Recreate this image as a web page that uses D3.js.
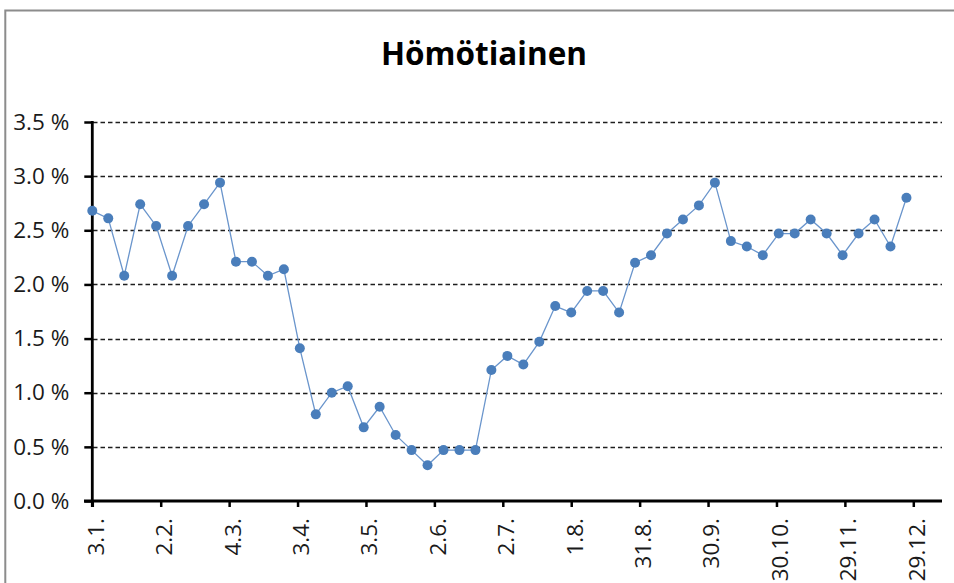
<!DOCTYPE html>
<html>
<head>
<meta charset="utf-8">
<script src="https://cdn.jsdelivr.net/npm/d3@7"></script>
<style>
  html, body { margin: 0; padding: 0; background: #fff; }
  svg { display: block; }
</style>
</head>
<body>
<svg id="chart" width="954" height="583"></svg>
<script>
// ---- data ----
const title = "Hömötiainen";
const year = 2021;
const weekDates = ["3.1.","10.1.","17.1.","24.1.","31.1.","7.2.","14.2.","21.2.","28.2.",
  "7.3.","14.3.","21.3.","28.3.","4.4.","11.4.","18.4.","25.4.","2.5.","9.5.","16.5.",
  "23.5.","30.5.","6.6.","13.6.","20.6.","27.6.","4.7.","11.7.","18.7.","25.7.","1.8.",
  "8.8.","15.8.","22.8.","29.8.","5.9.","12.9.","19.9.","26.9.","3.10.","10.10.","17.10.",
  "24.10.","31.10.","7.11.","14.11.","21.11.","28.11.","5.12.","12.12.","19.12.","26.12."];
const shares = [2.68, 2.61, 2.08, 2.74, 2.54, 2.08, 2.54, 2.74, 2.94, 2.21, 2.21, 2.08, 2.14,
  1.41, 0.80, 1.00, 1.06, 0.68, 0.87, 0.61, 0.47, 0.33, 0.47, 0.47, 0.47, 1.21, 1.34, 1.26,
  1.47, 1.80, 1.74, 1.94, 1.94, 1.74, 2.20, 2.27, 2.47, 2.60, 2.73, 2.94, 2.40, 2.35, 2.27,
  2.47, 2.47, 2.60, 2.47, 2.27, 2.47, 2.60, 2.35, 2.80];
const xTickLabels = ["3.1.","2.2.","4.3.","3.4.","3.5.","2.6.","2.7.","1.8.","31.8.","30.9.","30.10.","29.11.","29.12."];
const yTicks = [0, 0.5, 1.0, 1.5, 2.0, 2.5, 3.0, 3.5];

// ---- helpers ----
function parseDM(s) {
  const p = s.split(".");
  return new Date(Date.UTC(year, +p[1] - 1, +p[0]));
}
const data = weekDates.map((d, i) => ({ date: parseDM(d), value: shares[i] }));
const tickDates = xTickLabels.map(parseDM);

const svg = d3.select("#chart");
const font = "'Open Sans', 'DejaVu Sans', sans-serif";

// chart border
svg.append("path")
  .attr("d", "M5.3,583 L5.3,10.5 L954,10.5")
  .attr("fill", "none").attr("stroke", "#8c8c8c").attr("stroke-width", 2);

// scales
const x = d3.scaleUtc().domain([tickDates[0], tickDates[tickDates.length - 1]]).range([92.3, 913.3]);
const y = d3.scaleLinear().domain([0, 3.5]).range([501, 122]);
const plotRight = 942;

// title
svg.append("text")
  .attr("x", 484).attr("y", 65)
  .attr("text-anchor", "middle")
  .attr("font-family", font).attr("font-weight", "bold").attr("font-size", 31.5)
  .attr("fill", "#000")
  .text(title);

// gridlines
svg.append("g").selectAll("line")
  .data(yTicks.filter(v => v > 0))
  .join("line")
  .attr("x1", 93).attr("x2", plotRight)
  .attr("y1", d => Math.round(y(d)) + 0.5).attr("y2", d => Math.round(y(d)) + 0.5)
  .attr("stroke", "#1e1e1e").attr("stroke-width", 1.3)
  .attr("stroke-dasharray", "4.5,3");

// y axis
const yAxis = d3.axisLeft(y).tickValues(yTicks).tickSize(8).tickPadding(15)
  .tickFormat(d => d.toFixed(1) + " %");
const gy = svg.append("g").attr("transform", "translate(92.3,0)").call(yAxis);
gy.select(".domain").remove();
gy.selectAll(".tick line").attr("stroke", "#000").attr("stroke-width", 2.5);
gy.selectAll(".tick text")
  .attr("font-family", font).attr("font-size", 22.5).attr("fill", "#1a1a1a");
svg.append("line")
  .attr("x1", 92.3).attr("x2", 92.3).attr("y1", y(3.5) - 1).attr("y2", 507)
  .attr("stroke", "#000").attr("stroke-width", 2.8);

// x axis
const xAxis = d3.axisBottom(x).tickValues(tickDates).tickSize(6)
  .tickFormat((d, i) => xTickLabels[i]);
const gx = svg.append("g").attr("transform", "translate(0,501)").call(xAxis);
gx.select(".domain").remove();
gx.selectAll(".tick line").attr("stroke", "#000").attr("stroke-width", 2.5);
gx.selectAll(".tick text")
  .attr("font-family", font).attr("font-size", 22.5).attr("fill", "#1a1a1a")
  .attr("text-anchor", "end")
  .attr("transform", "rotate(-90)")
  .attr("x", -17).attr("y", 3).attr("dy", "0.35em");
svg.append("line")
  .attr("x1", 84).attr("x2", plotRight).attr("y1", 501).attr("y2", 501)
  .attr("stroke", "#000").attr("stroke-width", 2.8);

// series line
const line = d3.line().x(d => x(d.date)).y(d => y(d.value));
svg.append("path")
  .datum(data)
  .attr("d", line)
  .attr("fill", "none")
  .attr("stroke", "#6a95cc").attr("stroke-width", 1.3);

// markers
svg.append("g").selectAll("circle")
  .data(data)
  .join("circle")
  .attr("cx", d => x(d.date)).attr("cy", d => y(d.value))
  .attr("r", 5)
  .attr("fill", "#4a7ebb");
</script>
</body>
</html>
